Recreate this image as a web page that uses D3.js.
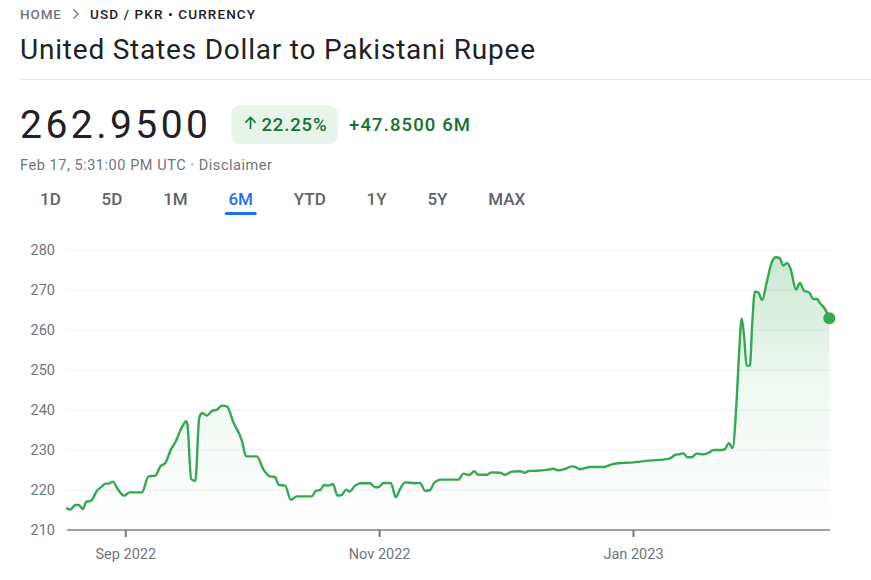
<!DOCTYPE html>
<html>
<head>
<meta charset="utf-8">
<script src="https://cdn.jsdelivr.net/npm/d3@7"></script>
<style>
  html, body { margin: 0; padding: 0; background: #ffffff; }
  svg { display: block; font-family: Roboto, "Noto Sans", "DejaVu Sans", sans-serif; }
</style>
</head>
<body>
<svg id="chart" width="871" height="580"></svg>
<script>
// ---------------- DATA ----------------
const breadcrumbHome = "HOME";
const breadcrumbPair = "USD / PKR • CURRENCY";
const titleText = "United States Dollar to Pakistani Rupee";
const priceText = "262.9500";
const changePctText = "22.25%";
const changeAbsText = "+47.8500 6M";
const timestampText = "Feb 17, 5:31:00 PM UTC · Disclaimer";
const tabs = ["1D", "5D", "1M", "6M", "YTD", "1Y", "5Y", "MAX"];
const activeTab = "6M";

const dates = [
  "2022-08-18 00","2022-08-18 19","2022-08-20 00","2022-08-20 19","2022-08-21 20",
  "2022-08-22 15","2022-08-23 18","2022-08-25 05","2022-08-26 10","2022-08-27 05",
  "2022-08-28 00","2022-08-29 01","2022-08-30 04","2022-08-31 18","2022-09-02 01",
  "2022-09-05 00","2022-09-06 14","2022-09-08 05","2022-09-09 10","2022-09-10 15",
  "2022-09-11 23","2022-09-13 00","2022-09-14 15","2022-09-15 16","2022-09-15 23",
  "2022-09-16 20","2022-09-17 20","2022-09-18 19","2022-09-19 14","2022-09-20 15",
  "2022-09-21 20","2022-09-23 01","2022-09-24 05","2022-09-25 10","2022-09-27 00",
  "2022-09-29 01","2022-09-30 01","2022-10-02 15","2022-10-04 05","2022-10-05 20",
  "2022-10-07 01","2022-10-07 20","2022-10-09 10","2022-10-10 19","2022-10-12 06",
  "2022-10-15 20","2022-10-16 19","2022-10-17 20","2022-10-18 19","2022-10-19 20",
  "2022-10-20 21","2022-10-22 00","2022-10-23 01","2022-10-24 02","2022-10-24 21",
  "2022-10-26 06","2022-10-27 11","2022-10-29 20","2022-10-31 01","2022-10-31 20",
  "2022-11-02 01","2022-11-03 19","2022-11-05 00","2022-11-06 01","2022-11-07 06",
  "2022-11-09 16","2022-11-10 20","2022-11-12 01","2022-11-13 06","2022-11-14 05",
  "2022-11-15 20","2022-11-20 01","2022-11-21 06","2022-11-22 17","2022-11-23 20",
  "2022-11-24 20","2022-11-26 21","2022-11-28 02","2022-11-30 01","2022-12-01 06",
  "2022-12-02 21","2022-12-04 21","2022-12-06 02","2022-12-06 21","2022-12-08 21",
  "2022-12-11 16","2022-12-12 21","2022-12-14 02","2022-12-15 16","2022-12-17 07",
  "2022-12-18 02","2022-12-19 07","2022-12-21 16","2022-12-24 21","2022-12-26 21",
  "2022-12-28 21","2023-01-01 02","2023-01-02 16","2023-01-05 12","2023-01-08 07",
  "2023-01-09 21","2023-01-11 02","2023-01-12 11","2023-01-13 02","2023-01-14 01",
  "2023-01-15 02","2023-01-16 07","2023-01-17 21","2023-01-19 08","2023-01-20 07",
  "2023-01-22 07","2023-01-23 02","2023-01-24 01","2023-01-24 22","2023-01-25 22",
  "2023-01-26 13","2023-01-27 03","2023-01-27 18","2023-01-28 07","2023-01-29 02",
  "2023-01-29 16","2023-01-30 07","2023-01-31 02","2023-02-01 01","2023-02-02 03",
  "2023-02-03 08","2023-02-04 08","2023-02-05 07","2023-02-06 02","2023-02-07 01",
  "2023-02-07 21","2023-02-09 04","2023-02-10 03","2023-02-11 02","2023-02-12 08",
  "2023-02-13 07","2023-02-14 03","2023-02-15 02","2023-02-16 03","2023-02-17 04"
];
const rates = [
  215.4, 215.1, 216.25, 216.25, 215.25,
  217.1, 217.3, 219.8, 220.9, 221.6,
  221.6, 222.1, 220.25, 218.6, 219.4,
  219.4, 223.4, 223.6, 225.9, 226.75,
  230.1, 231.9, 235.7, 237.2, 236.2,
  222.75, 222.25, 238.2, 239.25, 238.6,
  239.8, 240.1, 241.1, 240.9, 236.9,
  232.3, 228.4, 228.4, 225.1, 223.4,
  223.2, 221.3, 221.1, 217.5, 218.4,
  218.4, 219.8, 220.0, 221.25, 221.1,
  221.5, 218.6, 218.8, 220.1, 219.6,
  221.1, 221.7, 221.7, 220.7, 220.7,
  221.75, 221.75, 218.2, 220.25, 221.9,
  221.7, 221.75, 219.8, 220.0, 221.75,
  222.6, 222.6, 224.1, 223.75, 224.7,
  223.8, 223.8, 224.4, 224.3, 223.8,
  224.6, 224.7, 224.3, 224.75, 224.8,
  225.1, 225.3, 224.9, 225.25, 225.9,
  225.8, 225.2, 225.75, 225.75, 226.4,
  226.75, 226.9, 227.1, 227.4, 227.6,
  227.9, 228.75, 229.0, 229.2, 228.2,
  228.2, 229.1, 228.9, 229.4, 230.0,
  230.0, 230.25, 231.7, 230.5, 242.75,
  255.25, 262.9, 257.75, 251.1, 251.1,
  262.0, 269.6, 269.4, 267.5, 271.9,
  276.9, 278.2, 277.9, 276.1, 276.75,
  275.25, 270.1, 271.75, 269.8, 269.4,
  267.75, 267.75, 266.5, 265.25, 262.95
];
const yTickValues = [210, 220, 230, 240, 250, 260, 270, 280];
const xTickDates = ["2022-09-01", "2022-11-01", "2023-01-01"];

// ---------------- DRAWING ----------------
const svg = d3.select("#chart");
const parseHour = d3.timeParse("%Y-%m-%d %H");
const parseDay = d3.timeParse("%Y-%m-%d");
const series = dates.map((d, i) => ({ date: parseHour(d), value: rates[i] }));

const GREEN = "#34a853";
const DARKGREEN = "#137333";
const TEXT = "#202124";
const GREY = "#5f6368";
const LIGHTGREY = "#70757a";

// Breadcrumb
svg.append("text").attr("x", 20).attr("y", 19)
  .attr("font-size", 13.5).attr("font-weight", 500).attr("fill", LIGHTGREY)
  .attr("textLength", 41).attr("lengthAdjust", "spacing")
  .text(breadcrumbHome);
svg.append("path").attr("d", "M73.5,9.5 L78,14 L73.5,18.5")
  .attr("fill", "none").attr("stroke", LIGHTGREY).attr("stroke-width", 1.3);
svg.append("text").attr("x", 90).attr("y", 19)
  .attr("font-size", 13.5).attr("font-weight", 500).attr("fill", TEXT)
  .attr("textLength", 165).attr("lengthAdjust", "spacing")
  .text(breadcrumbPair);

// Title
svg.append("text").attr("x", 20).attr("y", 58.5)
  .attr("font-size", 28).attr("fill", TEXT)
  .attr("textLength", 515).attr("lengthAdjust", "spacing")
  .text(titleText);

svg.append("line").attr("x1", 20).attr("x2", 871).attr("y1", 79.5).attr("y2", 79.5)
  .attr("stroke", "#e3e5e8").attr("stroke-width", 1);

// Price
svg.append("text").attr("x", 20).attr("y", 138)
  .attr("font-size", 39).attr("fill", TEXT)
  .attr("textLength", 188).attr("lengthAdjust", "spacing")
  .text(priceText);

// Change pill
svg.append("rect").attr("x", 231.5).attr("y", 105.5).attr("width", 106).attr("height", 38.5)
  .attr("rx", 8).attr("fill", "#e6f4ea");
svg.append("path").attr("d", "M250.5,129 L250.5,117.5 M245.3,122.7 L250.5,117.5 L255.7,122.7")
  .attr("fill", "none").attr("stroke", DARKGREEN).attr("stroke-width", 1.6);
svg.append("text").attr("x", 261.5).attr("y", 131)
  .attr("font-size", 18.5).attr("font-weight", 500).attr("fill", DARKGREEN)
  .attr("textLength", 65).attr("lengthAdjust", "spacing")
  .text(changePctText);
svg.append("text").attr("x", 349).attr("y", 131)
  .attr("font-size", 18.5).attr("font-weight", 500).attr("fill", DARKGREEN)
  .attr("textLength", 121).attr("lengthAdjust", "spacing")
  .text(changeAbsText);

// Timestamp
svg.append("text").attr("x", 20).attr("y", 170)
  .attr("font-size", 14.5).attr("fill", LIGHTGREY)
  .attr("textLength", 252).attr("lengthAdjust", "spacing")
  .text(timestampText);

// Tabs
let tx = 40;
tabs.forEach(t => {
  const el = svg.append("text").attr("x", tx).attr("y", 205)
    .attr("font-size", 17).attr("font-weight", 500)
    .attr("fill", t === activeTab ? "#1a73e8" : GREY)
    .text(t);
  const w = el.node().getComputedTextLength();
  if (t === activeTab) {
    svg.append("rect").attr("x", tx + w / 2 - 16).attr("y", 212).attr("width", 32).attr("height", 3)
      .attr("rx", 1.5).attr("fill", "#1a73e8");
  }
  tx += w + 40.8;
});

// Chart scales
const x = d3.scaleTime()
  .domain(d3.extent(series, d => d.date))
  .range([67, 829.3]);
const y = d3.scaleLinear().domain([210, 280]).range([530, 250]);

// Gradient
const defs = svg.append("defs");
const grad = defs.append("linearGradient").attr("id", "areaGrad")
  .attr("gradientUnits", "userSpaceOnUse")
  .attr("x1", 0).attr("x2", 0).attr("y1", y(d3.max(rates))).attr("y2", y(210));
grad.append("stop").attr("offset", 0).attr("stop-color", GREEN).attr("stop-opacity", 0.26);
grad.append("stop").attr("offset", 0.45).attr("stop-color", GREEN).attr("stop-opacity", 0.08);
grad.append("stop").attr("offset", 1).attr("stop-color", GREEN).attr("stop-opacity", 0.0);

// Gridlines
svg.append("g").selectAll("line")
  .data(yTickValues.filter(v => v !== 210))
  .join("line")
  .attr("x1", 67).attr("x2", 830)
  .attr("y1", d => y(d)).attr("y2", d => y(d))
  .attr("stroke", "#eceef0").attr("stroke-width", 1);

// Y axis labels
const yAxis = d3.axisLeft(y).tickValues(yTickValues).tickSize(0).tickPadding(12);
const gy = svg.append("g").attr("transform", "translate(67,0)").call(yAxis);
gy.select(".domain").remove();
gy.selectAll("text").attr("font-size", 14.5).attr("fill", LIGHTGREY)
  .attr("font-family", "Roboto, sans-serif");

// Area + line
const area = d3.area().x(d => x(d.date)).y0(y(210)).y1(d => y(d.value)).curve(d3.curveMonotoneX);
svg.append("path").datum(series).attr("d", area).attr("fill", "url(#areaGrad)");

// X axis
const xAxis = d3.axisBottom(x)
  .tickValues(xTickDates.map(parseDay))
  .tickFormat(d3.timeFormat("%b %Y"))
  .tickSize(7).tickSizeOuter(0).tickPadding(12);
const gx = svg.append("g").attr("transform", "translate(0,530)").call(xAxis);
gx.select(".domain").attr("stroke", "#9aa0a6").attr("stroke-width", 2)
  .attr("d", "M67,0H830");
gx.selectAll(".tick line").attr("stroke", LIGHTGREY).attr("stroke-width", 2);
gx.selectAll("text").attr("font-size", 14.5).attr("fill", LIGHTGREY)
  .attr("font-family", "Roboto, sans-serif");

const line = d3.line().x(d => x(d.date)).y(d => y(d.value)).curve(d3.curveMonotoneX);
svg.append("path").datum(series).attr("d", line)
  .attr("fill", "none").attr("stroke", GREEN).attr("stroke-width", 2.4)
  .attr("stroke-linejoin", "round").attr("stroke-linecap", "round");

const last = series[series.length - 1];
svg.append("circle").attr("cx", x(last.date)).attr("cy", y(last.value)).attr("r", 6)
  .attr("fill", GREEN);
</script>
</body>
</html>
